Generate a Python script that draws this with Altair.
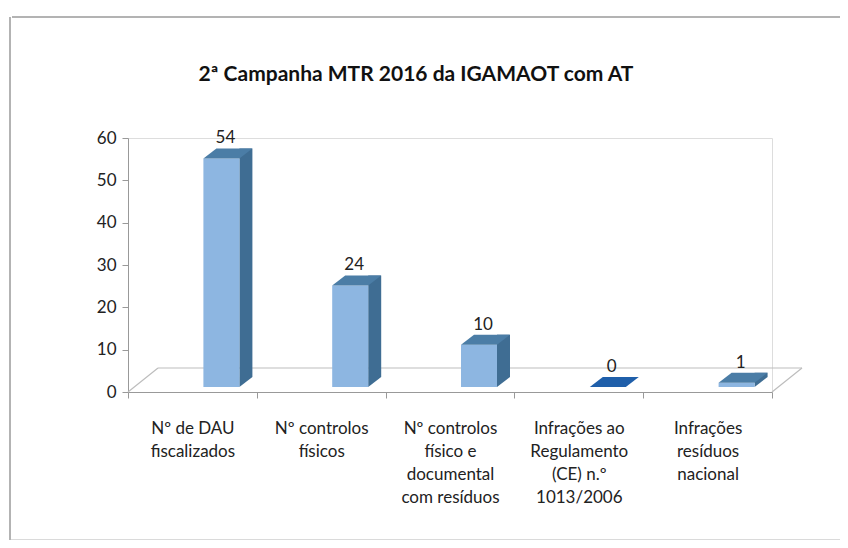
import altair as alt
import pandas as pd

categories = [
    "Nº de DAU|fiscalizados",
    "Nº controlos|físicos",
    "Nº controlos|físico e|documental|com resíduos",
    "Infrações ao|Regulamento|(CE) n.º|1013/2006",
    "Infrações|resíduos|nacional",
]
values = [54, 24, 10, 0, 1]
y_ticks = [0, 10, 20, 30, 40, 50, 60]
title_text = "2ª Campanha MTR 2016 da IGAMAOT com AT"

df = pd.DataFrame({"cat": categories, "val": values})
one = pd.DataFrame({"a": [0]})
title_df = pd.DataFrame({"t": [title_text]})

W, H = 644, 254
FONT = "Lato"
FRONT = "#8DB6E1"
SIDE = "#3F6D93"
TOP = "#4B7DA6"
ZERO_TOP = "#1F5FAA"
FLOOR = "#BDBDBD"
FRAME = "#9A9A9A"

x_enc = alt.X(
    "cat:N",
    sort=categories,
    scale=alt.Scale(paddingInner=0, paddingOuter=0),
    axis=alt.Axis(
        title=None,
        labelExpr="split(datum.label, '|')",
        labelAngle=0,
        labelFont=FONT,
        labelFontSize=17,
        labelColor="#222222",
        labelLineHeight=23,
        labelPadding=22,
        labelBaseline="top",
        labelOverlap=False,
        labelLimit=0,
        tickBand="extent",
        tickSize=6,
        tickColor="#999999",
        domainColor="#999999",
    ),
)
y_scale = alt.Scale(domain=[0, 60])
y_enc = alt.Y(
    "val:Q",
    scale=y_scale,
    axis=alt.Axis(
        title=None,
        values=y_ticks,
        grid=False,
        labelFont=FONT,
        labelFontSize=17,
        labelColor="#222222",
        labelPadding=6,
        tickSize=6,
        tickColor="#999999",
        domainColor="#999999",
    ),
)

base = alt.Chart(df)

# outer frame of the chart (top, left, bottom edges)
frame_top = alt.Chart(one).mark_rule(color=FRAME, strokeWidth=1.5).encode(
    x=alt.value(-116), x2=alt.value(712), y=alt.value(-121)
)
frame_left = alt.Chart(one).mark_rule(color=FRAME, strokeWidth=1.5).encode(
    x=alt.value(-118), y=alt.value(-121), y2=alt.value(402)
)
frame_bottom = alt.Chart(one).mark_rule(color="#B5B5B5", strokeWidth=1.2).encode(
    x=alt.value(-118), x2=alt.value(712), y=alt.value(402)
)

title = alt.Chart(title_df).mark_text(
    font=FONT, fontSize=21, fontWeight="bold", color="#111111", align="center", baseline="middle"
).encode(x=alt.value(288), y=alt.value(-63), text="t:N")

floor_back = alt.Chart(one).mark_rule(color=FLOOR, strokeWidth=1.2).encode(
    x=alt.value(30), x2=alt.value(W + 30), y=alt.value(H - 24)
)
floor_left = alt.Chart(one).mark_rule(color=FLOOR, strokeWidth=1.2).encode(
    x=alt.value(0), x2=alt.value(30), y=alt.value(H), y2=alt.value(H - 24)
)
floor_right = alt.Chart(one).mark_rule(color=FLOOR, strokeWidth=1.2).encode(
    x=alt.value(W), x2=alt.value(W + 30), y=alt.value(H), y2=alt.value(H - 24)
)

side = base.mark_bar(width=13, xOffset=53.5, yOffset=-15, y2Offset=-15, color=SIDE).encode(
    x=x_enc, y=y_enc
)
side_tri = base.transform_filter("datum.val > 0").mark_point(
    shape="M 1.8 0 L 1.8 -1 L 3.1 -1 Z", size=400, filled=True, opacity=1,
    strokeWidth=0, color=SIDE, xOffset=29, yOffset=-5,
).encode(x=x_enc, y=alt.datum(0, scale=y_scale))

front = base.mark_bar(width=36, xOffset=29, yOffset=-5, y2Offset=-5, color=FRONT).encode(
    x=x_enc, y=y_enc
)

top = base.mark_point(
    shape="M -1.8 0 L 1.8 0 L 3.1 -1 L -0.5 -1 Z", size=400, filled=True, opacity=1,
    strokeWidth=0, xOffset=29, yOffset=-5,
).encode(
    x=x_enc,
    y=y_enc,
    color=alt.condition("datum.val == 0", alt.value(ZERO_TOP), alt.value(TOP)),
)

labels = base.mark_text(
    font=FONT, fontSize=17, color="#222222", xOffset=33, yOffset=-5, dy=-20, baseline="middle"
).encode(x=x_enc, y=y_enc, text="val:Q")

chart = alt.layer(
    frame_top, frame_left, frame_bottom, title, floor_back, floor_left, floor_right,
    side, side_tri, front, top, labels
).properties(
    width=W,
    height=H,
    autosize=alt.AutoSizeParams(type="none"),
    padding={"left": 120, "top": 130, "right": 68, "bottom": 148},
).configure_view(stroke=None).configure(background="white")

chart.save("out.html", embed_options={"renderer": "svg", "actions": False})
